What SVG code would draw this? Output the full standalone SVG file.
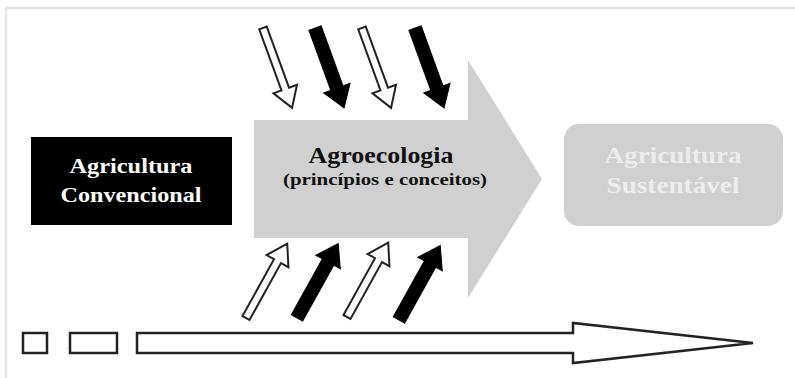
<svg xmlns="http://www.w3.org/2000/svg" width="795" height="378" viewBox="0 0 795 378">
<style>
.frame{stroke:#e6e6e6;stroke-width:2.5;fill:none}
.t{font-family:"Liberation Serif","Times New Roman",serif;font-weight:bold;text-anchor:middle}
.wa{fill:#fff;stroke:#222;stroke-width:2;stroke-linejoin:miter}
.ba{fill:#000;stroke:#000;stroke-width:1}
.bar{fill:#fff;stroke:#222;stroke-width:2.5;stroke-linejoin:miter}
</style>
<defs>
<path id="wArrow" class="wa" d="M -4,0 L -4,-65 L -12.5,-65 L 0,-85 L 12.5,-65 L 4,-65 L 4,0 Z"/>
<path id="bArrow" class="ba" d="M -6.5,0 L -6.5,-64 L -14,-64 L 0,-85 L 14,-64 L 6.5,-64 L 6.5,0 Z"/>
</defs>
<rect width="795" height="378" fill="#fff"/>
<path class="frame" d="M 6,378 L 6,8 L 795,8"/>

<g id="agroecologia">
<polygon points="254,120 468,120 468,60 542,179 468,298 468,238 254,238" fill="#d0d0d0"/>
<text class="t" x="381" y="163" font-size="24" fill="#111" textLength="145" lengthAdjust="spacingAndGlyphs">Agroecologia</text>
<text class="t" x="385" y="185" font-size="16" fill="#111" textLength="204" lengthAdjust="spacingAndGlyphs">(princípios e conceitos)</text>
</g>

<g id="convencional">
<rect x="31" y="137" width="201" height="88" fill="#000"/>
<text class="t" x="131" y="173" font-size="22" fill="#fff" textLength="123" lengthAdjust="spacingAndGlyphs">Agricultura</text>
<text class="t" x="131" y="202" font-size="22" fill="#fff" textLength="141" lengthAdjust="spacingAndGlyphs">Convencional</text>
</g>

<g id="sustentavel">
<rect x="564" y="124" width="219" height="102" rx="15" ry="15" fill="#d0d0d0"/>
<text class="t" x="673" y="163" font-size="24" fill="#ececec" textLength="137" lengthAdjust="spacingAndGlyphs">Agricultura</text>
<text class="t" x="673" y="193" font-size="24" fill="#ececec" textLength="133" lengthAdjust="spacingAndGlyphs">Sustentável</text>
</g>

<g id="connectors">
<use href="#wArrow" transform="translate(263,28) rotate(160)"/>
<use href="#bArrow" transform="translate(315,28) rotate(160)"/>
<use href="#wArrow" transform="translate(362,28) rotate(160)"/>
<use href="#bArrow" transform="translate(415,28) rotate(160)"/>
<use href="#wArrow" transform="translate(246,318) rotate(29)"/>
<use href="#bArrow" transform="translate(297,318) rotate(29)"/>
<use href="#wArrow" transform="translate(347,317) rotate(29)"/>
<use href="#bArrow" transform="translate(399,320) rotate(29)"/>
</g>

<g id="timeline">
<rect class="bar" x="23" y="333" width="24" height="20"/>
<rect class="bar" x="70" y="333" width="47" height="20"/>
<polygon class="bar" points="137,333 573,333 573,323 753,343 573,363 573,353 137,353"/>
</g>
</svg>
